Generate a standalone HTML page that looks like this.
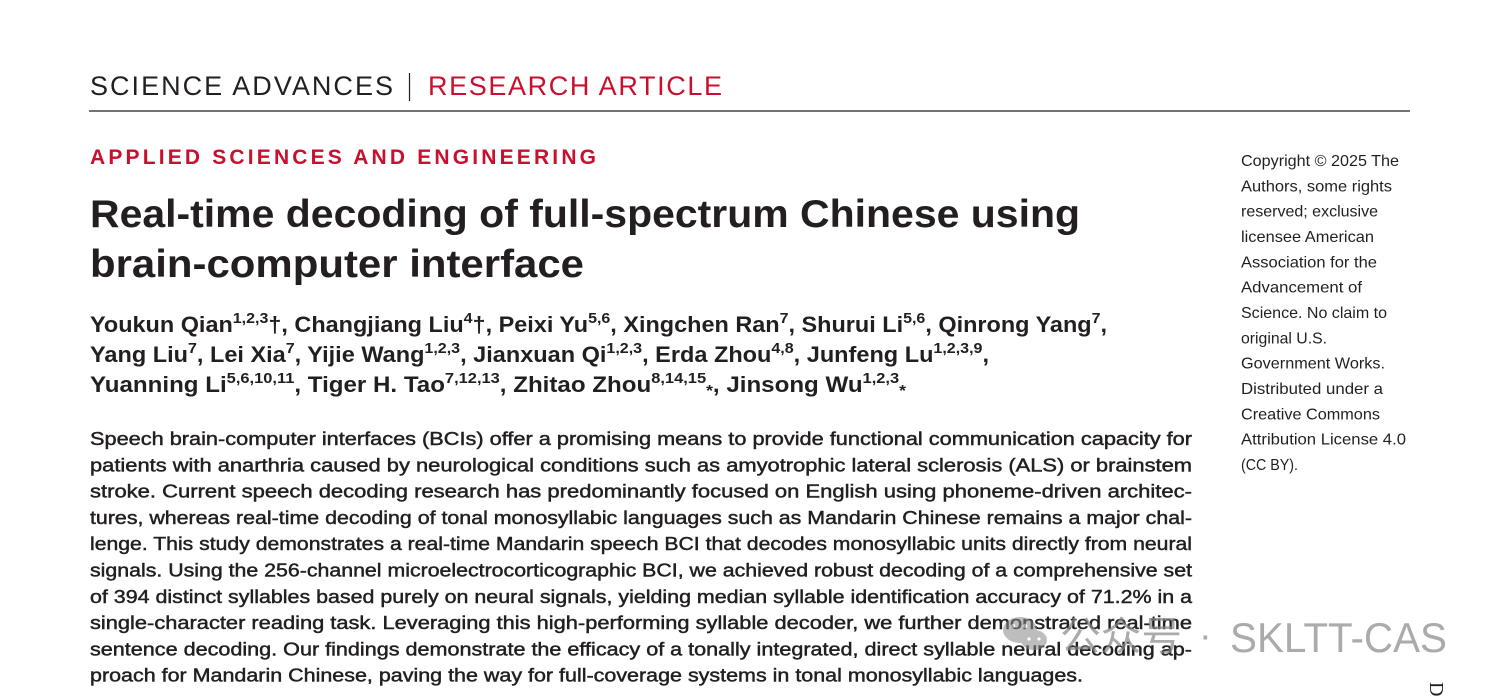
<!DOCTYPE html>
<html>
<head>
<meta charset="utf-8">
<style>
  html,body{margin:0;padding:0;background:#fff;}
  body{width:1494px;height:696px;overflow:hidden;}
  svg{display:block;}
  .hdr{font-family:"Liberation Sans",sans-serif;font-size:27px;}
  .ttl{font-family:"Liberation Sans",sans-serif;font-size:39px;font-weight:bold;fill:#231f20;}
  .auth{font-family:"Liberation Sans","DejaVu Sans",sans-serif;font-size:22px;font-weight:bold;fill:#231f20;}
  .abs{font-family:"Liberation Sans",sans-serif;font-size:18px;fill:#231f20;stroke:#231f20;stroke-width:0.45;}
  .cp{font-family:"Liberation Sans",sans-serif;font-size:16px;fill:#231f20;}
  .wm{font-family:"Liberation Sans","Noto Sans CJK SC",sans-serif;fill:#888;opacity:0.7;}
</style>
</head>
<body>
<svg width="1494" height="696" viewBox="0 0 1494 696" xmlns="http://www.w3.org/2000/svg">
  <rect width="1494" height="696" fill="#fff"/>

  <!-- Header -->
  <text class="hdr" x="90" y="95" fill="#231f20" textLength="303" lengthAdjust="spacing">SCIENCE ADVANCES</text>
  <line x1="409.5" y1="73" x2="409.5" y2="101" stroke="#231f20" stroke-width="1.2"/>
  <text class="hdr" x="428" y="95" fill="#c8102e" textLength="294" lengthAdjust="spacing">RESEARCH ARTICLE</text>
  <line x1="89" y1="111" x2="1410" y2="111" stroke="#231f20" stroke-width="1.3"/>

  <!-- Section -->
  <text x="90" y="164" font-family="Liberation Sans, sans-serif" font-size="21" font-weight="bold" fill="#c8102e" textLength="506" lengthAdjust="spacing">APPLIED SCIENCES AND ENGINEERING</text>

  <!-- Title -->
  <text class="ttl" x="90" y="227" textLength="990" lengthAdjust="spacingAndGlyphs">Real-time decoding of full-spectrum Chinese using</text>
  <text class="ttl" x="90" y="277" textLength="494" lengthAdjust="spacingAndGlyphs">brain-computer interface</text>

  <!-- Authors -->
  <text class="auth" x="90" y="332" textLength="1017" lengthAdjust="spacingAndGlyphs">Youkun Qian<tspan dy="-9" font-size="15">1,2,3</tspan><tspan dy="9">†, Changjiang Liu</tspan><tspan dy="-9" font-size="15">4</tspan><tspan dy="9">†, Peixi Yu</tspan><tspan dy="-9" font-size="15">5,6</tspan><tspan dy="9">, Xingchen Ran</tspan><tspan dy="-9" font-size="15">7</tspan><tspan dy="9">, Shurui Li</tspan><tspan dy="-9" font-size="15">5,6</tspan><tspan dy="9">, Qinrong Yang</tspan><tspan dy="-9" font-size="15">7</tspan><tspan dy="9">,</tspan></text>
  <text class="auth" x="90" y="362" textLength="899" lengthAdjust="spacingAndGlyphs">Yang Liu<tspan dy="-9" font-size="15">7</tspan><tspan dy="9">, Lei Xia</tspan><tspan dy="-9" font-size="15">7</tspan><tspan dy="9">, Yijie Wang</tspan><tspan dy="-9" font-size="15">1,2,3</tspan><tspan dy="9">, Jianxuan Qi</tspan><tspan dy="-9" font-size="15">1,2,3</tspan><tspan dy="9">, Erda Zhou</tspan><tspan dy="-9" font-size="15">4,8</tspan><tspan dy="9">, Junfeng Lu</tspan><tspan dy="-9" font-size="15">1,2,3,9</tspan><tspan dy="9">,</tspan></text>
  <text class="auth" x="90" y="392" textLength="816" lengthAdjust="spacingAndGlyphs">Yuanning Li<tspan dy="-9" font-size="15">5,6,10,11</tspan><tspan dy="9">, Tiger H. Tao</tspan><tspan dy="-9" font-size="15">7,12,13</tspan><tspan dy="9">, Zhitao Zhou</tspan><tspan dy="-9" font-size="15">8,14,15</tspan><tspan dy="13" font-size="16">*</tspan><tspan dy="-4">, Jinsong Wu</tspan><tspan dy="-9" font-size="15">1,2,3</tspan><tspan dy="13" font-size="16">*</tspan></text>

  <!-- Abstract -->
  <text class="abs" x="90" y="445" textLength="1102" lengthAdjust="spacingAndGlyphs">Speech brain-computer interfaces (BCIs) offer a promising means to provide functional communication capacity for</text>
  <text class="abs" x="90" y="471.3" textLength="1102" lengthAdjust="spacingAndGlyphs">patients with anarthria caused by neurological conditions such as amyotrophic lateral sclerosis (ALS) or brainstem</text>
  <text class="abs" x="90" y="497.6" textLength="1102" lengthAdjust="spacingAndGlyphs">stroke. Current speech decoding research has predominantly focused on English using phoneme-driven architec-</text>
  <text class="abs" x="90" y="523.9" textLength="1102" lengthAdjust="spacingAndGlyphs">tures, whereas real-time decoding of tonal monosyllabic languages such as Mandarin Chinese remains a major chal-</text>
  <text class="abs" x="90" y="550.2" textLength="1102" lengthAdjust="spacingAndGlyphs">lenge. This study demonstrates a real-time Mandarin speech BCI that decodes monosyllabic units directly from neural</text>
  <text class="abs" x="90" y="576.5" textLength="1102" lengthAdjust="spacingAndGlyphs">signals. Using the 256-channel microelectrocorticographic BCI, we achieved robust decoding of a comprehensive set</text>
  <text class="abs" x="90" y="602.8" textLength="1102" lengthAdjust="spacingAndGlyphs">of 394 distinct syllables based purely on neural signals, yielding median syllable identification accuracy of 71.2% in a</text>
  <text class="abs" x="90" y="629.1" textLength="1102" lengthAdjust="spacingAndGlyphs">single-character reading task. Leveraging this high-performing syllable decoder, we further demonstrated real-time</text>
  <text class="abs" x="90" y="655.4" textLength="1102" lengthAdjust="spacingAndGlyphs">sentence decoding. Our findings demonstrate the efficacy of a tonally integrated, direct syllable neural decoding ap-</text>
  <text class="abs" x="90" y="681.7" textLength="993" lengthAdjust="spacingAndGlyphs">proach for Mandarin Chinese, paving the way for full-coverage systems in tonal monosyllabic languages.</text>

  <!-- Copyright side block -->
  <text class="cp" x="1241" y="166" textLength="158" lengthAdjust="spacingAndGlyphs">Copyright © 2025 The</text>
  <text class="cp" x="1241" y="191.3" textLength="151" lengthAdjust="spacingAndGlyphs">Authors, some rights</text>
  <text class="cp" x="1241" y="216.7" textLength="137" lengthAdjust="spacingAndGlyphs">reserved; exclusive</text>
  <text class="cp" x="1241" y="242" textLength="133" lengthAdjust="spacingAndGlyphs">licensee American</text>
  <text class="cp" x="1241" y="267.3" textLength="136" lengthAdjust="spacingAndGlyphs">Association for the</text>
  <text class="cp" x="1241" y="292.7" textLength="121" lengthAdjust="spacingAndGlyphs">Advancement of</text>
  <text class="cp" x="1241" y="318" textLength="146" lengthAdjust="spacingAndGlyphs">Science. No claim to</text>
  <text class="cp" x="1241" y="343.3" textLength="86" lengthAdjust="spacingAndGlyphs">original U.S.</text>
  <text class="cp" x="1241" y="368.7" textLength="144" lengthAdjust="spacingAndGlyphs">Government Works.</text>
  <text class="cp" x="1241" y="394" textLength="142" lengthAdjust="spacingAndGlyphs">Distributed under a</text>
  <text class="cp" x="1241" y="419.3" textLength="139" lengthAdjust="spacingAndGlyphs">Creative Commons</text>
  <text class="cp" x="1241" y="444.7" textLength="165" lengthAdjust="spacingAndGlyphs">Attribution License 4.0</text>
  <text class="cp" x="1241" y="470" textLength="57" lengthAdjust="spacingAndGlyphs">(CC BY).</text>

  <!-- Rotated side text -->
  <text x="1430" y="682" font-family="Liberation Serif, serif" font-size="20" fill="#231f20" transform="rotate(90 1430 682)">D</text>

  <!-- Watermark -->
  <g opacity="0.55" fill="#888">
    <ellipse cx="1020" cy="630" rx="17" ry="13"/>
    <ellipse cx="1034" cy="640" rx="13" ry="10"/>
    <circle cx="1013" cy="626" r="2.2" fill="#fff"/>
    <circle cx="1025" cy="626" r="2.2" fill="#fff"/>
    <circle cx="1029" cy="639" r="1.6" fill="#fff"/>
    <circle cx="1039" cy="639" r="1.6" fill="#fff"/>
  </g>
  <text class="wm" x="1060" y="650" font-size="40" textLength="122" lengthAdjust="spacingAndGlyphs">公众号</text>
  <text class="wm" x="1199" y="648" font-size="38">·</text>
  <text class="wm" x="1230" y="652" font-size="42" textLength="217" lengthAdjust="spacingAndGlyphs">SKLTT-CAS</text>
</svg>
</body>
</html>
